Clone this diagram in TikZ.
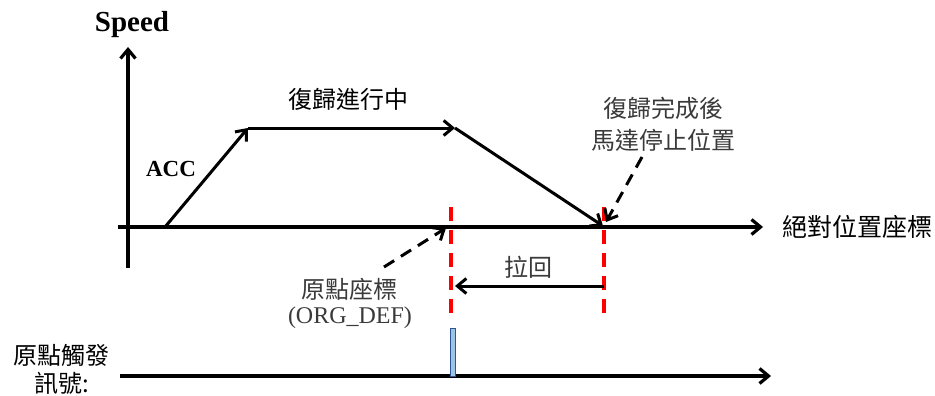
\documentclass[tikz,border=0pt]{standalone}
\usepackage{fontspec}
\setmainfont{Liberation Serif}
\newfontfamily\cjk{Noto Sans CJK TC}
\usetikzlibrary{arrows.meta}
\definecolor{annot}{HTML}{3A3A3A}
\definecolor{pulsefill}{HTML}{9DC3E6}
\definecolor{pulsedraw}{HTML}{2F5597}
\begin{document}
\begin{tikzpicture}[x=1pt,y=-1pt,
  axisline/.style={line width=3.2pt,-{Straight Barb[length=9pt,width=15pt]}},
  profile/.style={line width=3pt,-{Straight Barb[length=9pt,width=15pt]}},
  pointer/.style={line width=3pt,dash pattern=on 12pt off 8pt,-{Straight Barb[length=9pt,width=15pt]}},
  marker/.style={draw=red,line width=3.2pt,dash pattern=on 14pt off 9pt},
  cjktext/.style={font=\cjk\fontsize{24}{28}\selectfont,inner sep=0pt},
  bold/.style={font=\bfseries\fontsize{28}{32}\selectfont,inner sep=0pt},
]
\useasboundingbox (0,0) rectangle (935,396);
% coordinates
\coordinate (vbot) at (128,268);
\coordinate (vtop) at (128,47);
\coordinate (hleft) at (118,227);
\coordinate (hright) at (763,227);
\coordinate (p0) at (165,227);
\coordinate (p1) at (248,128);
\coordinate (p2) at (455,128);
\coordinate (p3) at (603,226);
\coordinate (r1top) at (451,207);
\coordinate (r1bot) at (451,320);
\coordinate (r2top) at (604,207);
\coordinate (r2bot) at (604,318);
\coordinate (pullstart) at (604,286);
\coordinate (pullend) at (455,286);
\coordinate (stopfrom) at (642,157);
\coordinate (stopto) at (606,222);
\coordinate (orgfrom) at (384,267);
\coordinate (orgto) at (446,228);
\coordinate (sigleft) at (120,376);
\coordinate (sigright) at (771,376);
% axes
\draw[axisline] (vbot) -- (vtop);
\draw[axisline] (hleft) -- (hright);
% profile
\draw[profile] (p0) -- (p1);
\draw[profile] (p1) -- (p2);
\draw[profile] (p2) -- (p3);
% red markers
\draw[marker] (r1top) -- (r1bot);
\draw[marker] (r2top) -- (r2bot);
% pull back arrow
\draw[profile] (pullstart) -- (pullend);
% pointers
\draw[pointer] (stopfrom) -- (stopto);
\draw[pointer] (orgfrom) -- (orgto);
% labels
\node[bold,font=\bfseries\fontsize{29}{32}\selectfont] (speed) at (132,25) {Speed};
\node[bold,font=\bfseries\fontsize{23}{26}\selectfont] (acc) at (171,169) {ACC};
\node[cjktext] (homing) at (348,99) {復歸進行中};
\node[cjktext,text=annot,align=center,font=\cjk\fontsize{24}{32}\selectfont] (stop) at (663,124) {復歸完成後\\馬達停止位置};
\node[cjktext,text=black,font=\cjk\fontsize{25}{28}\selectfont] (abs) at (857,227) {絕對位置座標};
\node[cjktext,text=annot] (pull) at (528,267) {拉回};
\node[cjktext,text=annot] (org) at (349,289) {原點座標};
\node[inner sep=0pt,text=annot,font=\fontsize{24}{28}\selectfont] (orgdef) at (350,318) {(ORG\_DEF)};
\node[cjktext,text=black] (sig1) at (61,355) {原點觸發};
\node[cjktext,text=black] (sig2) at (62,383) {訊號:};
% signal line
\draw[axisline] (sigleft) -- (sigright);
\node[draw=pulsedraw,fill=pulsefill,line width=1pt,minimum width=5pt,minimum height=48pt,inner sep=0pt,anchor=south] (pulse) at (452.5,377) {};
\end{tikzpicture}
\end{document}
